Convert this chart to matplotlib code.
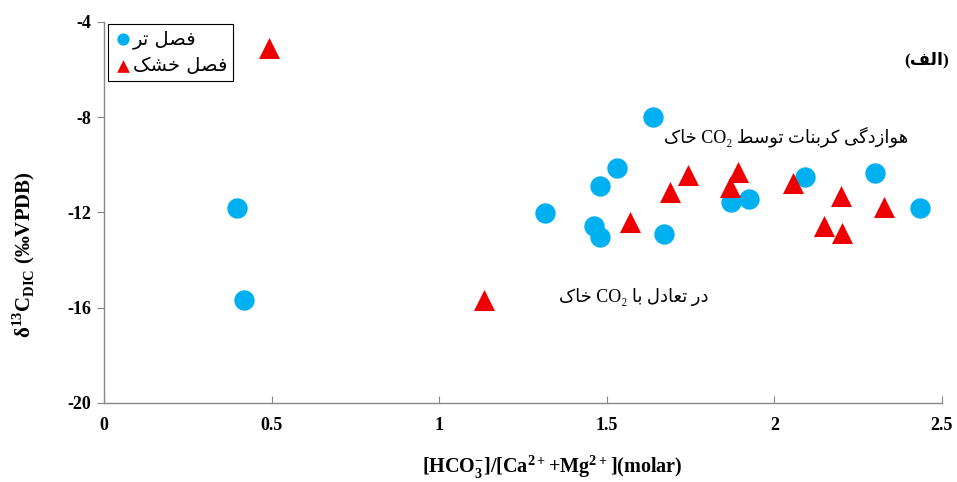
import matplotlib
matplotlib.use("Agg")
import matplotlib.pyplot as plt

# داده‌ها
wet_x = [0.397, 0.418, 1.317, 1.462, 1.481, 1.481, 1.532, 1.637, 1.672, 1.871, 1.923, 2.093, 2.299, 2.434]
wet_y = [-11.81, -15.67, -12.03, -12.57, -13.04, -10.88, -10.15, -7.98, -12.91, -11.55, -11.45, -10.50, -10.36, -11.82]
dry_x = [0.493, 1.134, 1.570, 1.690, 1.742, 1.869, 1.893, 2.056, 2.147, 2.199, 2.202, 2.328]
dry_y = [-5.10, -15.67, -12.39, -11.13, -10.43, -10.92, -10.29, -10.75, -12.57, -11.31, -12.85, -11.76]

wet_label = "فصل تر"
dry_label = "فصل خشک"
panel_label = "الف"
note_top = "هوازدگی کربنات توسط CO₂ خاک"
note_bottom = "در تعادل با CO₂ خاک"

# matplotlib حروف فارسی را به هم نمی‌چسباند، پس شکل‌های نمایشی را دستی می‌سازیم
# (isolated, final, initial, medial)
FORMS = {
    'ا': ('\uFE8D', '\uFE8E', None, None),
    'ب': ('\uFE8F', '\uFE90', '\uFE91', '\uFE92'),
    'ت': ('\uFE95', '\uFE96', '\uFE97', '\uFE98'),
    'خ': ('\uFEA5', '\uFEA6', '\uFEA7', '\uFEA8'),
    'د': ('\uFEA9', '\uFEAA', None, None),
    'ر': ('\uFEAD', '\uFEAE', None, None),
    'ز': ('\uFEAF', '\uFEB0', None, None),
    'س': ('\uFEB1', '\uFEB2', '\uFEB3', '\uFEB4'),
    'ش': ('\uFEB5', '\uFEB6', '\uFEB7', '\uFEB8'),
    'ص': ('\uFEB9', '\uFEBA', '\uFEBB', '\uFEBC'),
    'ط': ('\uFEC1', '\uFEC2', '\uFEC3', '\uFEC4'),
    'ع': ('\uFEC9', '\uFECA', '\uFECB', '\uFECC'),
    'ف': ('\uFED1', '\uFED2', '\uFED3', '\uFED4'),
    'ل': ('\uFEDD', '\uFEDE', '\uFEDF', '\uFEE0'),
    'ن': ('\uFEE5', '\uFEE6', '\uFEE7', '\uFEE8'),
    'ه': ('\uFEE9', '\uFEEA', '\uFEEB', '\uFEEC'),
    'و': ('\uFEED', '\uFEEE', None, None),
    'ک': ('\uFB8E', '\uFB8F', '\uFB90', '\uFB91'),
    'گ': ('\uFB92', '\uFB93', '\uFB94', '\uFB95'),
    'ی': ('\uFBFC', '\uFBFD', '\uFBFE', '\uFBFF'),
}


def shape_word(w):
    out = []
    for i, ch in enumerate(w):
        f = FORMS.get(ch)
        if f is None:
            out.append(ch)
            continue
        prev = i > 0 and w[i - 1] in FORMS and FORMS[w[i - 1]][2] is not None
        nxt = i < len(w) - 1 and w[i + 1] in FORMS and f[2] is not None
        if prev and nxt:
            out.append(f[3])
        elif nxt:
            out.append(f[2])
        elif prev:
            out.append(f[1])
        else:
            out.append(f[0])
    return ''.join(out)


def rtl(text):
    words = text.split(' ')
    vis = [shape_word(w)[::-1] if any(c in FORMS for c in w) else w for w in words]
    return ' '.join(reversed(vis))


plt.rcParams['axes.unicode_minus'] = False
plt.rcParams['mathtext.fontset'] = 'custom'
plt.rcParams['mathtext.rm'] = 'Liberation Serif:bold'
plt.rcParams['mathtext.bf'] = 'Liberation Serif:bold'

fig = plt.figure(figsize=(9.57, 4.82), dpi=100)
ax = fig.add_axes([0.1087, 0.164, 0.8755, 0.791])

ax.scatter(wet_x, wet_y, s=215, marker='o', color='#00B0F0', linewidths=0,
           label=rtl(wet_label), zorder=3)
ax.scatter(dry_x, dry_y, s=230, marker='^', color='#EE0000', linewidths=0,
           label=rtl(dry_label), zorder=4)

ax.set_xlim(0, 2.5)
ax.set_ylim(-20, -4)
ax.set_xticks([0, 0.5, 1, 1.5, 2, 2.5])
ax.set_xticklabels(['0', '0.5', '1', '1.5', '2', '2.5'])
ax.set_yticks([-20, -16, -12, -8, -4])

for s in ['top', 'right']:
    ax.spines[s].set_visible(False)
for s in ['left', 'bottom']:
    ax.spines[s].set_color('#888888')
    ax.spines[s].set_linewidth(1)

ax.tick_params(axis='x', direction='in', length=5, color='#888888', pad=10)
ax.tick_params(axis='y', direction='out', length=5, color='#888888', pad=4)
for lab in ax.get_xticklabels() + ax.get_yticklabels():
    lab.set_fontfamily('Liberation Serif')
    lab.set_fontweight('bold')
    lab.set_fontsize(13)

ax.set_xlabel(r'[HCO$_{3}^{-}$]/[Ca$^{2+}$+Mg$^{2+}$](molar)', fontsize=14.5,
              fontfamily='Liberation Serif', fontweight='bold')
ax.xaxis.set_label_coords(0.535, -0.132)
ax.set_ylabel(r'δ$^{13}$C$_{\mathrm{DIC}}$ (‰VPDB)', fontsize=15,
              fontfamily='Liberation Serif', fontweight='bold')
ax.yaxis.set_label_coords(-0.08, 0.388)

fa = ['Liberation Serif', 'DejaVu Sans']
ax.text(2.40, -8.83, rtl(note_top), ha='right', va='center', fontsize=13, family=fa)
ax.text(1.803, -15.54, rtl(note_bottom), ha='right', va='center', fontsize=13, family=fa)
ax.text(2.52, -5.61, '(' + rtl(panel_label) + ')', ha='right', va='center',
        fontsize=12.5, family=fa, fontweight='bold')

leg = ax.legend(loc='upper left', bbox_to_anchor=(0.0, 1.005), frameon=True,
                fancybox=False, edgecolor='black', framealpha=1,
                prop={'family': 'DejaVu Sans', 'size': 14},
                handletextpad=0.0, borderpad=0.3, labelspacing=0.35,
                handlelength=1.0, markerscale=0.6, borderaxespad=0.2)
leg.get_frame().set_linewidth(0.8)

fig.savefig('out.png', dpi=100)
